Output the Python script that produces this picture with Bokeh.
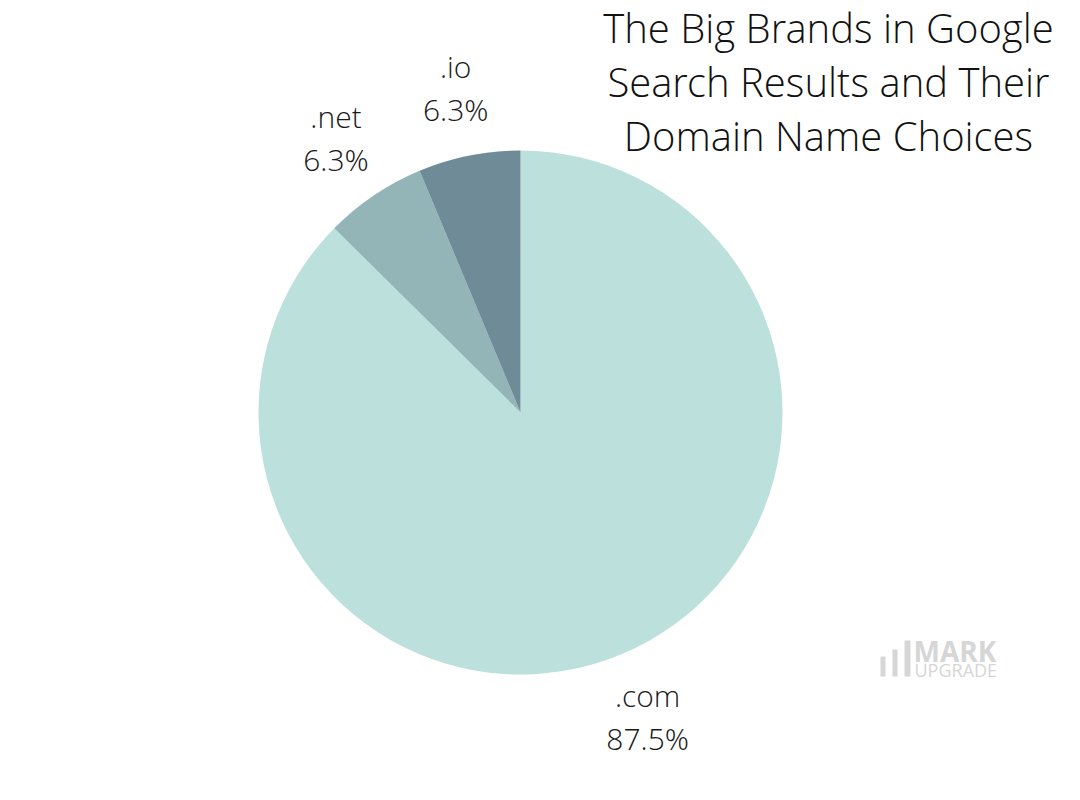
import math
from bokeh.plotting import figure
from bokeh.models import Range1d
from bokeh.core.properties import value
from bokeh.embed import file_html
from bokeh.resources import INLINE

# Data
categories = [".com", ".net", ".io"]
shares = [87.5, 6.3, 6.3]
colors = ["#BCE1DD", "#93B5B8", "#6F8B97"]
title_lines = ["The Big Brands in Google", "Search Results and Their", "Domain Name Choices"]

W, H = 1064, 784
p = figure(width=W, height=H, output_backend="svg", toolbar_location=None,
           x_range=Range1d(0, W), y_range=Range1d(800 - H, 800),
           min_border=0)
p.axis.visible = False
p.grid.visible = False
p.outline_line_color = None
p.background_fill_color = "white"
p.border_fill_color = "white"

cx, cy, R = 520, 388, 262
total = sum(shares)
start = math.pi / 2
starts, ends, label_x, label_y = [], [], [], []
for s in shares:
    span = s / total * 2 * math.pi
    end = start - span
    starts.append(start)
    ends.append(end)
    mid = (start + end) / 2
    label_x.append(cx + 330 * math.cos(mid))
    label_y.append(cy + 330 * math.sin(mid))
    start = end

p.wedge(x=[cx] * len(shares), y=[cy] * len(shares), radius=R,
        start_angle=starts, end_angle=ends, direction="clock",
        fill_color=colors, line_color=None)

font = value("Open Sans Light")
p.text(x=label_x, y=[y + 22 for y in label_y], text=categories,
       text_font=font, text_font_size="30px", text_color="#1a1a1a",
       text_align="center", text_baseline="middle")
p.text(x=label_x, y=[y - 21 for y in label_y], text=[f"{s:.1f}%" for s in shares],
       text_font=font, text_font_size="30px", text_color="#1a1a1a",
       text_align="center", text_baseline="middle")

# Title
p.text(x=[828, 828, 828], y=[800 - 27, 800 - 81, 800 - 135], text=title_lines,
       text_font=font, text_font_size="40px", text_color="#111111",
       text_align="center", text_baseline="middle")

# Logo
logo_col = "#D6D6D6"
p.quad(left=[880, 892, 904], right=[885, 897, 910],
       bottom=[800 - 676] * 3, top=[800 - 656, 800 - 649, 800 - 640],
       fill_color=logo_col, line_color=None)
p.text(x=[913], y=[800 - 650], text=["MARK"], text_font=value("Open Sans"),
       text_font_size="28px", text_font_style="bold", text_color=logo_col,
       text_align="left", text_baseline="middle")
p.text(x=[914], y=[800 - 669], text=["UPGRADE"], text_font=value("Open Sans"),
       text_font_size="18px", text_color=logo_col,
       text_align="left", text_baseline="middle")

open("out.html", "w").write(file_html(p, INLINE))
